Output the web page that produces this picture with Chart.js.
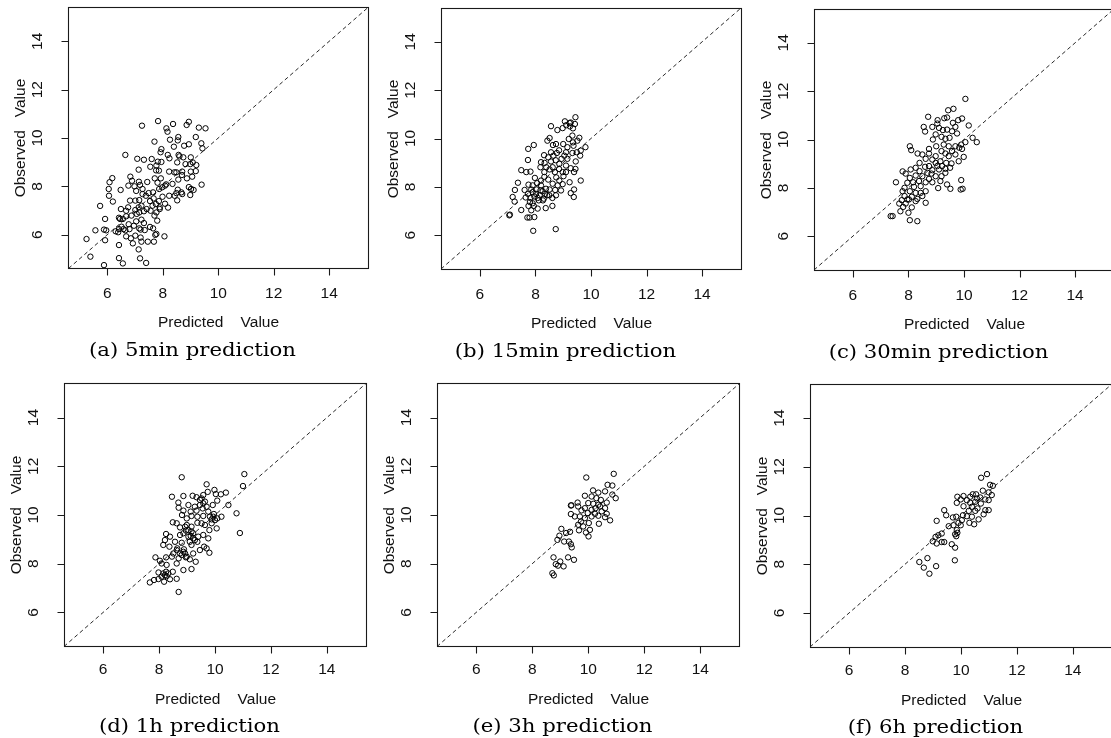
<!DOCTYPE html>
<html>
<head>
<meta charset="utf-8">
<script src="https://cdn.jsdelivr.net/npm/chart.js@4"></script>
<style>
html, body { margin: 0; padding: 0; background: #fff; overflow: hidden; width: 1111px; height: 738px; }
canvas { position: absolute; }
</style>
</head>
<body>
<canvas id="pa"></canvas>
<canvas id="pb"></canvas>
<canvas id="pc"></canvas>
<canvas id="pd"></canvas>
<canvas id="pe"></canvas>
<canvas id="pf"></canvas>
<script>
// axis limits (R style, 4% beyond 5..15) and tick labels
const axisLim = [4.6, 15.4];
const tickVals = [6, 8, 10, 12, 14];
const xTitle = "Predicted    Value";
const yTitle = "Observed   Value";
const captions = ["(a) 5min prediction", "(b) 15min prediction", "(c) 30min prediction",
                  "(d) 1h prediction", "(e) 3h prediction", "(f) 6h prediction"];

// (a) 5min
const predA = [7.83,7.25,8.37,8.94,8.86,8.13,8.17,9.30,9.54,8.56,
  8.54,8.26,9.19,7.70,8.77,8.94,9.39,9.43,8.40,7.95,
  7.92,6.65,8.18,8.57,8.60,8.74,7.08,7.32,7.60,8.24,
  9.01,9.08,8.99,9.21,8.82,8.52,7.95,7.82,7.77,7.55,
  7.13,7.86,7.76,8.23,8.42,8.49,8.70,9.01,9.19,8.69,
  6.18,6.83,7.71,7.93,6.08,6.89,7.14,7.44,8.56,8.87,
  9.06,7.81,8.08,8.12,7.98,6.76,6.98,7.04,7.18,7.27,
  7.27,7.39,7.49,7.65,7.87,8.35,8.54,8.49,8.67,8.94,
  9.02,9.11,9.40,8.99,8.70,6.05,6.48,6.06,6.20,6.82,
  7.01,7.15,7.54,7.67,7.75,7.86,7.89,8.19,8.08,7.99,
  8.23,8.52,8.43,5.74,6.49,6.68,6.75,7.01,7.13,7.23,
  7.32,7.42,7.56,7.63,7.70,7.77,7.80,7.89,5.92,6.42,
  6.46,6.56,6.68,6.87,7.06,7.15,7.23,7.04,6.77,6.51,
  6.58,6.42,5.57,5.88,5.96,6.30,6.39,6.65,6.80,6.96,
  7.15,7.20,7.32,7.35,7.54,7.65,7.77,7.73,8.06,6.68,
  7.01,6.85,7.20,5.25,5.92,6.92,7.23,7.46,7.68,6.42,
  7.13,5.39,6.42,7.18,6.56,7.40,5.88];
const obsA = [10.70,10.51,10.58,10.67,10.54,10.40,10.26,10.43,10.40,10.04,
  9.90,9.93,10.04,9.85,9.68,9.74,9.78,9.57,9.64,9.54,
  9.41,9.30,9.30,9.30,9.24,9.20,9.14,9.10,9.13,9.16,
  9.20,8.99,8.92,8.88,8.92,8.99,9.01,9.02,8.86,8.81,
  8.69,8.65,8.66,8.61,8.58,8.58,8.61,8.61,8.63,8.47,
  8.34,8.40,8.33,8.33,8.17,8.23,8.19,8.18,8.28,8.33,
  8.40,8.15,8.03,8.08,7.96,8.03,8.00,7.81,8.06,7.89,
  7.68,7.61,7.72,7.75,7.89,8.10,7.86,7.72,7.75,7.97,
  7.89,7.85,8.07,7.64,7.68,7.89,7.85,7.61,7.37,7.41,
  7.41,7.43,7.39,7.50,7.27,7.39,7.13,7.12,7.28,7.57,
  7.61,7.42,7.61,7.19,7.06,6.99,7.13,7.02,7.13,7.20,
  6.97,7.06,6.99,7.20,6.79,6.92,6.58,7.06,6.65,6.70,
  6.65,6.65,6.76,6.79,6.86,6.92,6.62,6.55,6.43,6.33,
  6.23,6.23,6.18,6.21,6.18,6.14,6.10,6.18,6.23,6.37,
  6.26,6.21,6.48,6.19,6.32,6.26,6.03,5.99,5.93,5.93,
  5.96,5.85,5.88,5.82,5.77,5.64,5.71,5.71,5.71,5.57,
  5.39,5.09,5.03,5.02,4.81,4.83,4.74];

// (b) 15min
const predB = [9.44,9.27,9.42,9.06,9.23,9.24,8.56,8.98,8.79,9.11,
  9.35,9.58,9.33,9.20,8.51,8.43,8.63,9.00,7.94,7.74,
  9.35,9.51,9.37,9.80,9.63,9.61,9.15,8.85,8.77,8.56,
  8.46,8.31,8.20,8.33,8.56,8.73,8.94,9.04,9.15,9.45,
  7.73,8.39,8.18,8.51,8.62,8.85,9.10,9.27,9.44,7.49,
  7.67,7.82,7.98,8.32,8.20,8.46,8.75,9.01,9.39,7.37,
  7.75,7.90,8.06,8.20,8.38,8.62,8.80,8.98,9.23,9.63,
  7.26,7.61,7.85,8.04,8.26,8.51,8.71,8.92,9.39,9.27,
  9.38,7.18,7.65,7.82,7.96,8.15,8.35,8.61,7.25,7.80,
  7.90,8.12,8.27,7.75,7.94,8.08,8.37,8.61,7.49,7.85,
  7.06,7.08,7.71,7.79,7.96,7.92,8.73,8.02,8.18,7.90,
  8.30,8.08,8.42,7.73,8.50,8.74,8.86,8.32,8.70,8.98,
  9.10,8.65,8.86,9.33,9.10,9.49,8.74];
const obsB = [10.88,10.66,10.60,10.71,10.64,10.50,10.51,10.43,10.35,10.55,
  10.42,10.03,10.12,9.98,10.02,9.91,9.73,9.77,9.73,9.57,
  9.84,9.91,9.70,9.64,9.50,9.29,9.64,9.51,9.40,9.43,
  9.22,9.31,9.02,8.99,9.05,9.10,9.16,9.29,9.16,9.05,
  9.11,8.81,8.81,8.72,8.81,8.74,8.88,8.77,8.74,8.69,
  8.61,8.63,8.37,8.41,8.26,8.30,8.39,8.44,8.61,8.17,
  8.09,8.06,8.15,8.06,7.92,8.13,8.06,8.11,8.19,8.26,
  7.87,7.87,7.89,7.89,7.82,7.89,7.87,7.85,7.89,7.74,
  7.58,7.58,7.56,7.54,7.60,7.65,7.71,7.54,7.39,7.37,
  7.32,7.44,7.44,7.21,7.21,7.10,7.12,7.21,7.04,7.03,
  6.82,6.85,6.73,6.73,6.75,6.18,6.25,7.71,7.85,7.78,
  7.51,7.54,7.65,7.71,7.65,7.65,8.26,8.61,8.61,8.61,
  8.61,9.29,8.95,9.40,9.43,9.43,9.77];

// (c) 30min
const predC = [10.05,9.62,9.43,8.71,9.29,9.05,9.39,9.93,9.79,9.60,
  9.04,9.69,10.17,8.55,8.60,8.86,9.10,9.24,9.39,9.57,
  9.75,8.98,9.19,9.33,9.48,8.88,10.05,10.31,10.46,9.90,
  9.83,9.69,9.45,9.27,9.00,8.74,9.19,9.57,9.93,8.05,
  8.10,8.33,8.50,8.74,8.98,9.33,9.99,9.81,9.55,9.36,
  9.15,8.86,8.62,8.40,9.21,9.50,9.10,8.86,8.60,8.26,
  8.08,7.79,7.90,8.83,8.98,9.33,8.74,9.19,8.50,8.26,
  8.05,7.55,7.96,8.38,8.62,8.86,8.44,8.20,9.15,9.39,
  9.51,9.90,9.95,9.88,9.07,7.79,8.05,8.26,8.44,8.62,
  7.86,8.12,8.32,8.50,7.76,7.96,8.26,8.62,7.67,7.90,
  8.12,7.81,7.71,8.00,7.36,7.43,8.05,8.32,7.86,8.17,
  8.68,9.04,9.33,9.69,9.45,8.98,8.40,8.74,8.02];
const obsC = [11.68,11.27,11.21,10.94,10.88,10.80,10.91,10.87,10.80,10.69,
  10.66,10.52,10.58,10.52,10.33,10.52,10.48,10.39,10.41,10.34,
  10.25,10.21,10.11,10.03,10.07,10.00,9.89,10.07,9.89,9.79,
  9.66,9.72,9.72,9.79,9.72,9.61,9.52,9.52,9.61,9.72,
  9.56,9.42,9.38,9.42,9.31,9.42,9.28,9.10,9.01,9.03,
  9.10,9.17,9.20,9.03,8.90,8.83,8.76,8.73,8.87,8.83,
  8.76,8.68,8.59,8.59,8.48,8.62,8.37,8.48,8.48,8.51,
  8.41,8.23,8.21,8.28,8.23,8.23,8.07,8.04,8.28,8.14,
  7.96,8.32,7.96,7.93,7.99,7.86,7.86,7.79,7.79,7.86,
  7.66,7.63,7.54,7.66,7.49,7.52,7.45,7.38,7.35,7.35,
  7.19,7.21,7.03,6.97,6.83,6.83,6.66,6.62,8.00,8.23,
  8.62,8.90,8.79,9.38,9.31,9.03,8.69,8.90,7.52];

// (d) 1h
const predD = [8.81,11.05,11.00,9.70,9.98,9.74,10.03,10.21,10.39,8.46,
  8.87,9.20,9.34,9.58,9.46,9.64,10.08,8.69,9.05,9.28,
  9.46,9.70,9.92,10.48,8.70,8.87,9.13,9.34,9.56,9.76,
  9.96,10.23,10.77,8.82,9.16,9.37,9.58,9.82,10.08,10.06,
  8.49,8.63,8.99,8.75,8.96,9.16,9.37,9.64,9.88,10.89,
  8.25,8.39,8.87,9.05,9.22,9.40,9.58,9.76,8.21,8.57,
  8.81,9.10,9.37,9.61,9.80,8.15,8.37,8.65,8.89,9.16,
  9.46,9.70,7.87,8.03,8.25,8.46,8.70,8.96,9.10,9.31,
  9.16,8.09,8.27,8.63,8.87,8.49,7.98,8.15,8.27,7.98,
  7.82,7.67,8.18,8.39,8.63,8.70,8.93,8.75,9.22,8.99,
  9.52,9.80,8.75,9.52,9.58,9.94,9.88,10.00,9.22,9.13,
  9.28,9.05,8.93,9.16,8.87,8.99,8.81,8.21,8.09,8.25,
  8.33,8.63,8.51];
const obsD = [11.55,11.68,11.19,11.26,11.03,10.95,10.86,10.85,10.92,10.75,
  10.78,10.79,10.73,10.82,10.62,10.55,10.59,10.51,10.41,10.34,
  10.41,10.34,10.41,10.41,10.30,10.18,10.14,10.18,10.27,10.14,
  10.04,9.93,10.07,10.00,9.96,9.93,9.96,9.93,9.86,9.45,
  9.70,9.66,9.59,9.49,9.36,9.52,9.68,9.59,9.66,9.26,
  9.22,9.11,9.25,9.11,9.04,9.11,9.18,9.04,8.97,8.90,
  8.86,8.90,8.90,8.70,8.45,8.77,8.70,8.63,8.59,8.77,
  8.56,8.63,8.26,8.12,8.26,8.29,8.22,8.26,8.18,8.08,
  7.78,8.01,7.95,8.01,7.74,7.67,7.64,7.60,7.49,7.37,
  7.33,7.23,7.26,7.36,7.38,6.84,8.42,8.42,8.42,9.86,
  9.66,9.38,9.18,10.68,10.48,9.93,9.82,9.79,9.25,9.14,
  8.97,9.38,9.52,9.32,8.49,8.29,8.36,7.53,7.47,7.67,
  7.60,8.56,8.42];

// (e) 3h
const predE = [10.91,9.93,10.69,10.86,10.17,10.36,10.60,10.98,10.86,9.88,
  10.12,10.29,10.45,10.66,9.62,9.40,9.38,10.00,10.18,10.36,
  9.64,9.88,10.12,10.42,10.60,10.66,9.38,9.76,9.98,10.24,
  9.70,9.88,10.36,10.60,10.78,9.74,10.02,10.38,9.82,9.67,
  9.92,10.01,9.04,9.21,8.97,8.90,9.31,9.35,9.14,9.38,
  9.41,8.76,9.28,9.49,9.00,8.84,8.92,9.12,8.72,8.77,
  10.12,10.26,10.48,9.64,10.06,9.52];
const obsE = [11.69,11.54,11.24,11.21,11.01,10.92,10.97,10.69,10.84,10.79,
  10.76,10.69,10.62,10.51,10.51,10.40,10.39,10.49,10.46,10.42,
  10.35,10.28,10.21,10.35,10.28,10.05,10.04,10.19,10.08,10.05,
  9.94,9.87,9.97,9.91,9.78,9.73,9.67,9.64,9.53,9.37,
  9.28,9.12,9.43,9.26,9.15,8.98,8.91,9.31,8.91,8.80,
  8.67,8.26,8.26,8.16,8.09,7.98,7.92,7.89,7.61,7.52,
  9.94,10.28,10.15,9.60,9.39,9.94];

// (f) 6h
const predF = [10.93,10.72,11.04,11.14,10.78,11.10,10.99,10.42,10.54,10.33,
  10.09,9.87,9.99,10.21,10.69,10.87,10.99,9.85,10.09,10.33,
  10.51,10.71,10.39,10.59,10.87,10.99,10.81,9.40,9.47,10.28,
  10.51,10.07,9.83,9.71,10.21,10.39,9.13,10.63,9.91,10.30,
  10.47,9.56,9.73,9.99,9.85,9.79,9.87,9.83,9.31,9.19,
  9.09,8.99,9.40,9.13,9.31,9.67,9.79,9.78,8.80,8.51,
  9.11,8.67,8.87,10.03,10.57];
const obsF = [11.70,11.55,11.26,11.22,11.02,10.84,10.95,10.87,10.87,10.77,
  10.80,10.77,10.66,10.63,10.74,10.66,10.63,10.52,10.38,10.52,
  10.56,10.49,10.36,10.29,10.22,10.22,10.05,10.22,10.01,10.19,
  10.19,10.01,9.95,9.92,9.97,9.95,9.78,9.84,9.70,9.70,
  9.64,9.56,9.60,9.60,9.40,9.23,9.29,9.15,9.26,9.19,
  9.12,8.94,8.91,8.85,8.91,8.82,8.68,8.16,8.25,8.09,
  7.92,7.86,7.61,9.81,10.70];

const preds = [predA, predB, predC, predD, predE, predF];
const obss = [obsA, obsB, obsC, obsD, obsE, obsF];

// layout: plot box of each panel in page pixels (left, top, right, bottom)
const boxes = [
  [68.5, 7.5, 370.5, 268.5], [441, 8, 743, 269], [814, 9, 1116, 270],
  [64, 383.5, 366, 646.5], [437, 383.5, 739.5, 646.5], [810, 384, 1112, 647]
];
const cellW = 373, cellH = 369;
const sans = '15.5px "Liberation Sans", Arial, Helvetica, sans-serif';
const serif = '19px "DejaVu Serif", "Liberation Serif", serif';

// R-like frame, ticks, labels and caption
const rFrame = {
  id: 'rFrame',
  afterDraw(chart, args, opts) {
    const ctx = chart.ctx;
    const ca = chart.chartArea;
    const L = Math.floor(ca.left) + 0.5, T = Math.floor(ca.top) + 0.5;
    const R = Math.floor(ca.right) + 0.5, B = Math.floor(ca.bottom) + 0.5;
    const xs = chart.scales.x, ys = chart.scales.y;
    ctx.save();
    ctx.strokeStyle = '#1a1a1a';
    ctx.lineWidth = 1.1;
    ctx.strokeRect(L, T, R - L, B - T);
    ctx.beginPath();
    tickVals.forEach(v => {
      const px = Math.round(xs.getPixelForValue(v)) + 0.5;
      ctx.moveTo(px, B); ctx.lineTo(px, B + 7);
      const py = Math.round(ys.getPixelForValue(v)) + 0.5;
      ctx.moveTo(L, py); ctx.lineTo(L - 7, py);
    });
    ctx.stroke();

    ctx.fillStyle = '#111';
    ctx.font = sans;
    ctx.textAlign = 'center';
    ctx.textBaseline = 'alphabetic';
    tickVals.forEach(v => {
      ctx.fillText(String(v), xs.getPixelForValue(v), B + opts.tickDy);
      ctx.save();
      ctx.translate(L - 27, ys.getPixelForValue(v));
      ctx.rotate(-Math.PI / 2);
      ctx.fillText(String(v), 0, 0);
      ctx.restore();
    });
    const cx = (L + R) / 2, cy = (T + B) / 2;
    ctx.fillText(xTitle, cx, B + opts.titleDy);
    ctx.save();
    ctx.translate(L - 43.5, cy);
    ctx.rotate(-Math.PI / 2);
    ctx.fillText(yTitle, 0, 0);
    ctx.restore();

    // caption, widened like the LaTeX subcaption
    ctx.font = serif;
    ctx.fillStyle = '#000';
    const kx = 207 / ctx.measureText(captions[0]).width;
    ctx.save();
    ctx.translate(cx - 26, B + opts.capDy);
    ctx.scale(kx, 1);
    ctx.fillText(opts.caption, 0, 0);
    ctx.restore();
    ctx.restore();
  }
};

['pa', 'pb', 'pc', 'pd', 'pe', 'pf'].forEach((id, i) => {
  const cvs = document.getElementById(id);
  const col = i % 3, row = Math.floor(i / 3);
  const ox = col * cellW, oy = row * cellH;
  cvs.width = cellW; cvs.height = cellH;
  cvs.style.left = ox + 'px'; cvs.style.top = oy + 'px';
  const b = boxes[i];
  const pts = preds[i].map((p, k) => ({ x: p, y: obss[i][k] }));

  new Chart(cvs, {
    type: 'scatter',
    data: {
      datasets: [
        {
          data: pts,
          pointStyle: 'circle',
          pointRadius: 2.7,
          pointBorderWidth: 1,
          pointBorderColor: '#000',
          pointBackgroundColor: 'rgba(0,0,0,0)'
        },
        {
          data: axisLim.map(v => ({ x: v, y: v })),
          showLine: true,
          borderColor: '#111',
          borderWidth: 0.9,
          borderDash: [4, 3],
          pointRadius: 0,
          fill: false
        }
      ]
    },
    options: {
      responsive: false,
      animation: false,
      events: [],
      layout: {
        padding: { left: b[0] - ox, top: b[1] - oy, right: ox + cellW - b[2], bottom: oy + cellH - b[3] }
      },
      scales: {
        x: { type: 'linear', min: axisLim[0], max: axisLim[1], display: false },
        y: { type: 'linear', min: axisLim[0], max: axisLim[1], display: false }
      },
      plugins: {
        legend: { display: false },
        tooltip: { enabled: false },
        rFrame: {
          caption: captions[i],
          tickDy: row === 0 ? 29 : 27,
          titleDy: row === 0 ? 58 : 57,
          capDy: row === 0 ? 87.5 : 85.5
        }
      }
    },
    plugins: [rFrame]
  });
});
</script>
</body>
</html>
